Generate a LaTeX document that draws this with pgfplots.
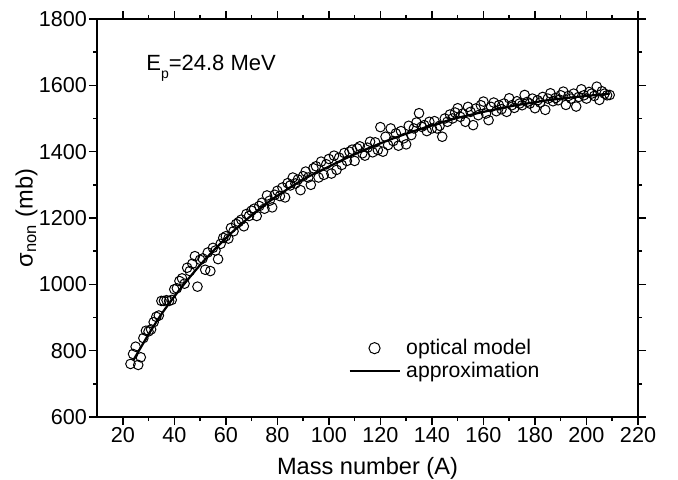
\documentclass[border=0pt]{standalone}
\usepackage{fontspec}
\setmainfont{Liberation Sans}
\usepackage{pgfplots}
\usepackage{pgfplotstable}
\pgfplotsset{compat=1.18}
\pgfplotstableread{
A s
23 760
24 790
25 812
26 757
27 780
28 838
29 860
30 858
31 864
32 886
33 902
34 906
35 950
36 950
37 952
38 950
39 953
40 985
41 988
42 1010
43 1018
44 1002
45 1050
46 1040
47 1062
48 1085
49 993
50 1074
51 1078
52 1044
53 1096
54 1040
55 1110
56 1102
57 1076
58 1122
59 1140
60 1145
61 1138
62 1170
63 1160
64 1182
65 1188
66 1195
67 1175
68 1212
69 1206
70 1222
71 1228
72 1206
73 1236
74 1246
75 1228
76 1268
77 1252
78 1232
79 1270
80 1282
81 1266
82 1292
83 1262
84 1305
85 1298
86 1322
87 1304
88 1316
89 1284
90 1326
91 1340
92 1322
93 1300
94 1350
95 1356
96 1322
97 1370
98 1330
99 1362
100 1378
101 1334
102 1388
103 1345
104 1382
105 1360
106 1396
107 1372
108 1400
109 1406
110 1372
111 1410
112 1416
113 1395
114 1388
115 1412
116 1430
117 1398
118 1428
119 1405
120 1474
121 1400
122 1445
123 1420
124 1470
125 1432
126 1455
127 1418
128 1462
129 1440
130 1422
131 1478
132 1450
133 1470
134 1488
135 1516
136 1475
137 1480
138 1462
139 1490
140 1470
141 1492
142 1470
143 1478
144 1445
145 1500
146 1490
147 1512
148 1500
149 1518
150 1531
151 1505
152 1515
153 1490
154 1535
155 1520
156 1480
157 1530
158 1510
159 1540
160 1551
161 1515
162 1495
163 1535
164 1548
165 1522
166 1540
167 1528
168 1545
169 1520
170 1561
171 1540
172 1532
173 1552
174 1545
175 1540
176 1571
177 1550
178 1545
179 1560
180 1531
181 1555
182 1548
183 1565
184 1526
185 1560
186 1576
187 1552
188 1562
189 1555
190 1570
191 1581
192 1541
193 1568
194 1560
195 1575
196 1536
197 1565
198 1588
199 1570
200 1560
201 1580
202 1575
203 1568
204 1596
205 1556
206 1582
207 1575
208 1570
209 1571
}\optical
\pgfplotstableread{
A s
24 770
25 783
30 849
35 910
40 963
45 1012
50 1058
55 1100
60 1139
65 1175
70 1208
75 1239
80 1267
85 1292
90 1316
95 1336
100 1355
105 1374
110 1392
115 1409
120 1425
125 1440
130 1454
135 1467
140 1479
145 1491
150 1502
155 1511
160 1520
165 1528
170 1536
175 1543
180 1549
185 1555
190 1560
195 1564
200 1568
205 1572
209 1575
}\approxcurve
\begin{document}
\begin{tikzpicture}
\begin{axis}[
  scale only axis, width=270.5pt, height=199pt,
  xmin=10, xmax=220, ymin=600, ymax=1800,
  xtick={20,40,...,220}, ytick={600,800,...,1800},
  minor x tick num=1, minor y tick num=1,
  tick align=outside,
  major tick length=4pt, minor tick length=2pt,
  axis line style={line width=0.75pt},
  tick style={line width=0.75pt, black},
  /pgf/number format/assume math mode=true,
  /pgf/number format/1000 sep={},
  ticklabel style={font=\fontsize{10.8}{13}\selectfont},
  xticklabel style={inner sep=1.2pt},
  yticklabel style={inner sep=0.8pt},
  label style={font=\fontsize{11.8}{14}\selectfont},
  xlabel={Mass number (A)},
  ylabel={σ\textsubscript{non} (mb)},
  xlabel style={at={(axis description cs:0.5,-0.145)}, anchor=base},
  ylabel style={at={(axis description cs:-0.119,0.5)}, anchor=base},
  legend style={draw=none, fill=none, font=\fontsize{10.6}{12}\selectfont,
    at={(rel axis cs:0.464,0.197)}, anchor=north west,
    inner sep=0pt, row sep=2.3pt, nodes={inner ysep=0pt, inner xsep=2.8pt}},
  legend cell align=left,
  legend image code/.code={\draw[mark repeat=2,mark phase=2,#1] plot coordinates {(0pt,0pt) (12.5pt,0pt) (25pt,0pt)};},
]
\addplot[only marks, mark=o, mark size=2.4pt, line width=0.5pt, black,
  legend image post style={mark size=2.8pt}] table[x=A, y=s] {\optical};
\addlegendentry{optical model}
\addplot[black, line width=1.1pt, smooth, no marks] table[x=A, y=s] {\approxcurve};
\addlegendentry{approximation}
\node[anchor=base west, inner sep=0pt, font=\fontsize{11}{13}\selectfont] at (axis cs:29,1646) {E\raisebox{-4.2pt}{\fontsize{7}{8}\selectfont p}=24.8 MeV};
\end{axis}
\pgfresetboundingbox
\useasboundingbox (-48.5pt,-31.5pt) rectangle (290.5pt,208.5pt);
\end{tikzpicture}
\end{document}
